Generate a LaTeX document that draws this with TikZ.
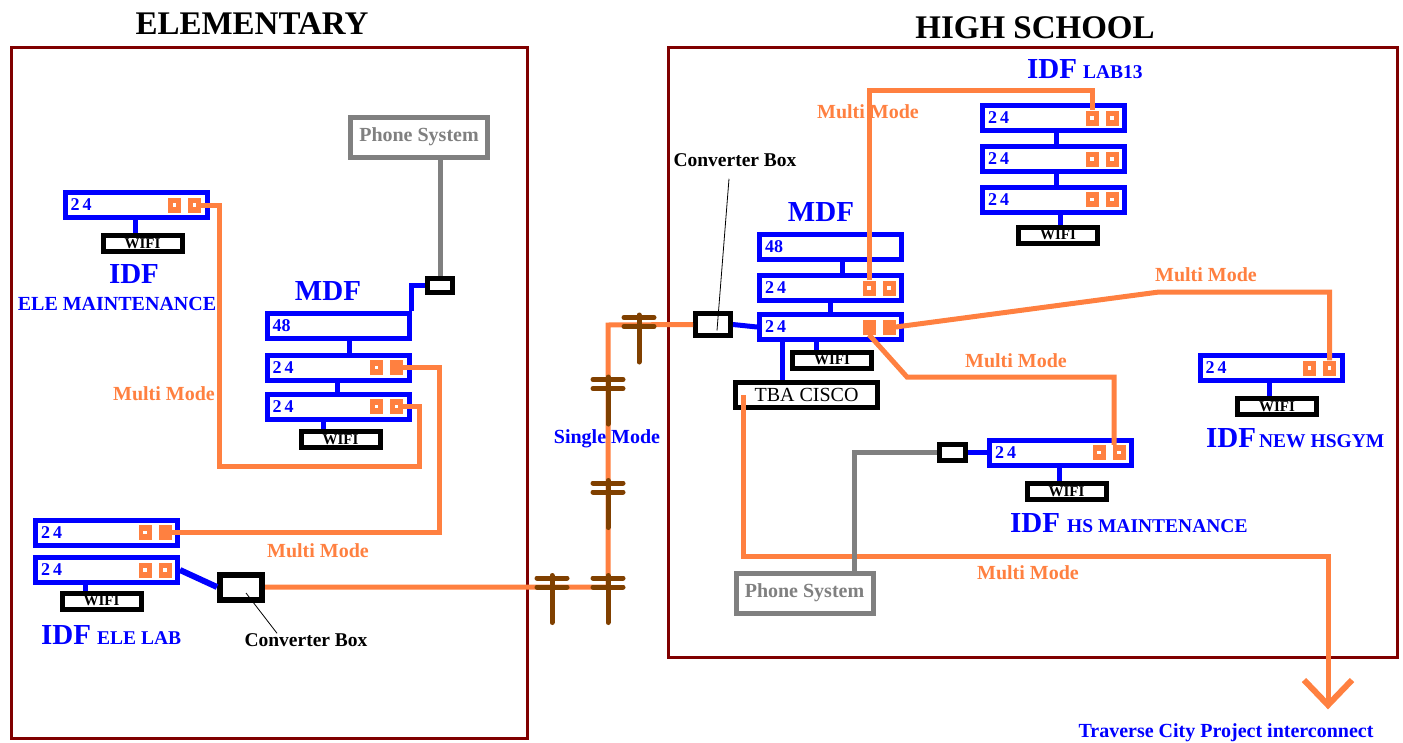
\documentclass[tikz,border=0pt]{standalone}
\usepackage{fontspec}
\setmainfont{Liberation Serif}
\definecolor{ored}{RGB}{255,128,64}
\definecolor{dred}{RGB}{128,0,0}
\definecolor{pblue}{RGB}{0,0,255}
\definecolor{pgray}{RGB}{128,128,128}
\definecolor{pbrown}{RGB}{128,64,0}
\tikzset{
  bframe/.style={draw=dred, line width=3pt},
  rack/.style={draw=pblue, line width=5pt, minimum width=142pt, minimum height=25pt, inner sep=0pt},
  rlabel/.style={anchor=west, inner sep=0pt, text=pblue, font=\fontsize{18}{18}\selectfont\bfseries},
  portbox/.style={fill=ored, minimum width=13pt, minimum height=15pt, inner sep=0pt,
    path picture={\fill[white] ([xshift=-1.7pt,yshift=-1.7pt]path picture bounding box.center) rectangle ++(3.4pt,3.4pt);}},
  sportbox/.style={fill=ored, minimum width=13pt, minimum height=15pt, inner sep=0pt},
  wifi/.style={draw=black, fill=white, line width=5pt, minimum width=79pt, minimum height=16pt, inner sep=0pt, font=\fontsize{15}{15}\selectfont\bfseries},
  conv/.style={draw=black, fill=white, line width=5pt, inner sep=0pt},
  phone/.style={draw=pgray, line width=5pt, text=pgray, minimum width=137pt, minimum height=40pt, inner sep=0pt, font=\fontsize{20}{20}\selectfont\bfseries},
  tbabox/.style={draw=black, line width=5pt, minimum width=142pt, minimum height=25pt, inner sep=0pt, font=\fontsize{20}{20}\selectfont},
  bl/.style={pblue, line width=5pt},
  ol/.style={ored, line width=5pt},
  gl/.style={pgray, line width=5pt},
  polel/.style={pbrown, line width=5pt, line cap=round},
  mmode/.style={text=ored, inner sep=0pt, font=\fontsize{20}{20}\selectfont\bfseries},
  blk/.style={text=black, inner sep=0pt, font=\fontsize{19.5}{19.5}\selectfont\bfseries},
  bigl/.style={text=pblue, inner sep=0pt, font=\fontsize{29}{29}\selectfont\bfseries},
  smalll/.style={text=pblue, inner sep=0pt, font=\fontsize{20}{20}\selectfont\bfseries},
  titlel/.style={text=black, inner sep=0pt, font=\fontsize{33}{33}\selectfont\bfseries},
}
\newcommand\mkrack[3]{\node[rack] (#1) at (#2) {}; \node[rlabel] (#1-t) at ([xshift=8pt]#1.west) {#3};}
\newcommand\mkports[3]{\node[#2] (#1-p1) at ([xshift=-35pt]#1.east) {}; \node[#3] (#1-p2) at ([xshift=-15pt]#1.east) {};}
\newcommand\idfl[4]{\node[anchor=base west, inner sep=0pt, text=pblue] (#1) at (#2) {{\fontsize{29}{29}\selectfont\bfseries IDF}\hspace{#3}{\fontsize{19.5}{19.5}\selectfont\bfseries #4}};}
\newcommand\tf{2\kern3pt4}
\begin{document}
\begin{tikzpicture}[x=1pt, y=-1pt]
\useasboundingbox (0,0) rectangle (1403,742);
\fill[white] (0,0) rectangle (1403,742);
% frames and titles
\draw[bframe] (11,47) rectangle (527,738);
\draw[bframe] (668,47) rectangle (1397,657);
\node[titlel] (tE) at (252,24) {ELEMENTARY};
\node[titlel] (tH) at (1035,28) {HIGH SCHOOL};

% ===== ELEMENTARY =====
\node[phone] (phE) at (419,137) {Phone System};
\node[conv, minimum width=25pt, minimum height=14pt] (cvE1) at (440,285.5) {};
\node[bigl] (mdfE) at (328,291) {MDF};
\mkrack{e48}{338,326}{48}
\mkrack{em1}{338,367.5}{\tf}
\mkrack{em2}{338,406.5}{\tf}
\mkports{em1}{portbox}{sportbox}
\mkports{em2}{portbox}{portbox}
\node[wifi] (ewf) at (340.5,439.5) {WIFI};
\draw[gl] (cvE1.north) -- (cvE1.north |- phE.south);
\draw[bl] (cvE1.west) -| (e48.north east);
\draw[bl] ([xshift=11pt]e48.south) -- ([xshift=11pt]e48.south |- em1.north);
\draw[bl] ([xshift=-1pt]em1.south) -- ([xshift=-1pt]em1.south |- em2.north);
\draw[bl] ([xshift=-15pt]em2.south) -- ([xshift=-15pt]em2.south |- ewf.north);

% ELE maintenance
\mkrack{ei}{136,205}{\tf}
\mkports{ei}{portbox}{portbox}
\node[wifi] (eiw) at (142.5,243.5) {WIFI};
\draw[bl] ([xshift=-1pt]ei.south) -- ([xshift=-1pt]ei.south |- eiw.north);
\node[bigl] (eiL) at (134,274) {IDF};
\node[smalll] (eiL2) at (117,304) {ELE MAINTENANCE};

% ELE lab
\mkrack{el1}{106.5,532.5}{\tf}
\mkrack{el2}{106.5,570}{\tf}
\mkports{el1}{portbox}{sportbox}
\mkports{el2}{portbox}{portbox}
\node[wifi] (elw) at (101.5,601) {WIFI};
\draw[bl] ([xshift=-21pt]el2.south) -- ([xshift=-21pt]el2.south |- elw.north);
\idfl{elL}{41,644}{6pt}{ELE LAB}
\node[conv, minimum width=42pt, minimum height=25pt, line width=6pt] (cvE2) at (241,587) {};
\draw[bl, line width=6pt] (el2.east) -- (cvE2.west);
\node[blk] (cbE) at (306,640) {Converter Box};
\draw[black, line width=0.8pt] ([xshift=5pt,yshift=-6pt]cvE2.center) -- ([xshift=-29pt]cbE.north);

% orange links elementary
\coordinate (kE1) at (219.5,466);
\coordinate (kE2) at (419,466);
\coordinate (kE3) at (439,532.5);
\draw[ol] (ei-p2.east) -| (kE1) -- (kE2) |- (em2-p2.east);
\draw[ol] (em1-p2.east) -| (kE3) -- (el1-p2.east);
\node[mmode] (mm1) at (164,394) {Multi Mode};
\node[mmode] (mm2) at (318,551) {Multi Mode};

% ===== HIGH SCHOOL =====
\node[blk] (cbH) at (735,160) {Converter Box};
\node[conv, minimum width=35pt, minimum height=22pt] (cvH) at (713,324.5) {};
\draw[black, line width=0.8pt] ([xshift=4pt,yshift=-6pt]cvH.center) -- ([xshift=-6pt,yshift=-12pt]cbH.south);
\node[bigl] (mdfH) at (821,212) {MDF};
\mkrack{hm48}{830.5,246.5}{48}
\mkrack{hm1}{830.5,288}{\tf}
\mkrack{hm2}{830.5,327}{\tf}
\mkports{hm1}{portbox}{portbox}
\mkports{hm2}{sportbox}{sportbox}
\node[wifi] (hmw) at (832,360) {WIFI};
\node[tbabox] (tba) at (806.5,395) {TBA CISCO};
\draw[bl] (cvH.east) -- (hm2.west);
\draw[bl] ([xshift=11.5pt]hm48.south) -- ([xshift=11.5pt]hm48.south |- hm1.north);
\draw[bl] (hm1.south) -- (hm2.north);
\draw[bl] ([xshift=-14.5pt]hm2.south) -- ([xshift=-14.5pt]hm2.south |- hmw.north);
\draw[bl] ([xshift=-24.5pt]tba.north) -- ([xshift=-24.5pt]tba.north |- hm2.south);

% LAB13
\mkrack{l1}{1053.5,118}{\tf}
\mkrack{l2}{1053.5,159}{\tf}
\mkrack{l3}{1053.5,199.5}{\tf}
\mkports{l1}{portbox}{portbox}
\mkports{l2}{portbox}{portbox}
\mkports{l3}{portbox}{portbox}
\node[wifi] (lw) at (1058,235) {WIFI};
\draw[bl] ([xshift=2.5pt]l1.south) -- ([xshift=2.5pt]l1.south |- l2.north);
\draw[bl] ([xshift=2.5pt]l2.south) -- ([xshift=2.5pt]l2.south |- l3.north);
\draw[bl] ([xshift=6.5pt]l3.south) -- ([xshift=6.5pt]l3.south |- lw.north);
\idfl{lL}{1027,78}{6pt}{LAB13}

% NEW HS GYM
\mkrack{hg}{1271,368}{\tf}
\mkports{hg}{portbox}{portbox}
\node[wifi] (hgw) at (1277,406.5) {WIFI};
\draw[bl] ([xshift=-2pt]hg.south) -- ([xshift=-2pt]hg.south |- hgw.north);
\idfl{hgL}{1206,447}{3pt}{NEW HSGYM}

% HS maintenance
\mkrack{hs}{1060.5,452.5}{\tf}
\mkports{hs}{portbox}{portbox}
\node[conv, minimum width=26pt, minimum height=16pt] (cvH2) at (952.5,452.5) {};
\draw[bl] (cvH2.east) -- (hs.west);
\node[wifi] (hsw) at (1066.5,491.5) {WIFI};
\draw[bl] ([xshift=-1.5pt]hs.south) -- ([xshift=-1.5pt]hs.south |- hsw.north);
\idfl{hsL}{1010,532}{7pt}{HS MAINTENANCE}

% orange links high school
\draw[ol] (hm1-p1.north) |- ([yshift=27.5pt]l1-p1.center) -- (l1-p1.north);
\coordinate (kH1) at (1159,292);
\draw[ol] (hm2-p2.east) -- (kH1) -| (hg-p2.north);
\coordinate (kH2) at (907,377);
\draw[ol] (hm2-p1.south) -- (kH2) -| ([xshift=-5pt]hs-p2.north);
\coordinate (kH3) at (1328,556);
\coordinate (tip) at (1328,705);
\draw[ol] ([xshift=-63.5pt]tba.center) |- (kH3) -- (tip);
\draw[ol, line width=6pt] ([xshift=-24pt,yshift=25pt]tip) -- (tip) -- ([xshift=24pt,yshift=25pt]tip);
\node[mmode] (mm3) at (868,112) {Multi Mode};
\node[mmode] (mm4) at (1206,275) {Multi Mode};
\node[mmode] (mm5) at (1016,361) {Multi Mode};
\node[mmode] (mm6) at (1028,573) {Multi Mode};

% phone system HS
\node[phone] (phH) at (804.5,593) {Phone System};
\draw[gl] ([xshift=49.5pt]phH.north) |- (cvH2.west);

% single mode link with poles
\coordinate (kS2) at (608,325);
\draw[ol] (cvE2.east) -| (kS2) -- (cvH.west);
\foreach \px/\py in {552/582.5, 608/582.5, 608/487.5, 608/384, 639/322}{
  \draw[polel] (\px-15,\py-4.5) -- (\px+15,\py-4.5) (\px-15,\py+4.5) -- (\px+15,\py+4.5) (\px,\py-7) -- (\px,\py+40);
}
\node[smalll] (smode) at (607,439) {Single Mode};
\node[smalll] (trv) at (1226,733) {Traverse City Project interconnect};
\end{tikzpicture}
\end{document}
